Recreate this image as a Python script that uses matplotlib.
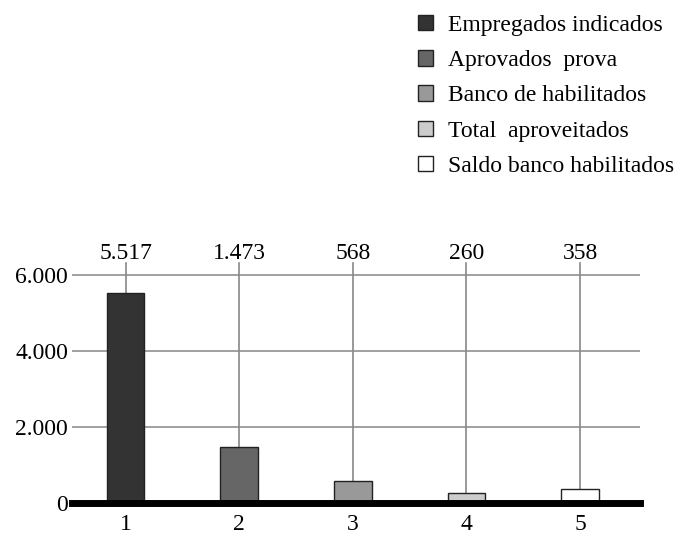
import matplotlib
matplotlib.use("Agg")
import matplotlib.pyplot as plt

plt.rcParams['font.family'] = ['Liberation Serif', 'DejaVu Serif']

categories = ["1", "2", "3", "4", "5"]
values = [5517, 1473, 568, 260, 358]
series_names = ["Empregados indicados", "Aprovados  prova", "Banco de habilitados",
                "Total  aproveitados", "Saldo banco habilitados"]
value_labels = ["5.517", "1.473", "568", "260", "358"]
yticks = [0, 2000, 4000, 6000]
ytick_labels = ["0", "2.000", "4.000", "6.000"]
colors = ["#333333", "#666666", "#999999", "#cccccc", "#ffffff"]

fs = 17

fig = plt.figure(figsize=(6.87, 5.35), dpi=100)
ax = fig.add_axes([0.105, 0.06, 0.827, 0.449])

x = list(range(1, len(values) + 1))
ymax = 6320
ax.set_xlim(0.53, 5.53)
ax.set_ylim(0, ymax)

# horizontal grid
for t in yticks[1:]:
    ax.axhline(t, color="#999999", lw=1.3, zorder=1)

bars = []
for xi, v, c, name, lab in zip(x, values, colors, series_names, value_labels):
    b = ax.bar(xi, v, width=0.33, color=c, edgecolor="#222222", linewidth=1,
               zorder=3, label=name)
    bars.append(b)
    # leader line from bar top up to the value label
    ax.plot([xi, xi], [v, ymax], color="#888888", lw=1.2, zorder=2, clip_on=False)
    ax.text(xi, ymax + 250, lab, ha="center", va="center", fontsize=fs, clip_on=False)

ax.axhline(0, color="black", lw=5, zorder=4, clip_on=False)

ax.set_yticks(yticks)
ax.set_yticklabels(ytick_labels, fontsize=fs)
ax.set_xticks(x)
ax.set_xticklabels(categories, fontsize=fs)
ax.tick_params(length=0)
ax.tick_params(axis="y", pad=3)
ax.tick_params(axis="x", pad=8)
for s in ax.spines.values():
    s.set_visible(False)

fig.legend(bars, series_names, loc="upper left", bbox_to_anchor=(0.595, 0.99),
           frameon=False, fontsize=fs, handlelength=0.64, handleheight=0.64,
           handletextpad=0.64, labelspacing=0.6, borderaxespad=0)

fig.savefig("out.png", dpi=100)
